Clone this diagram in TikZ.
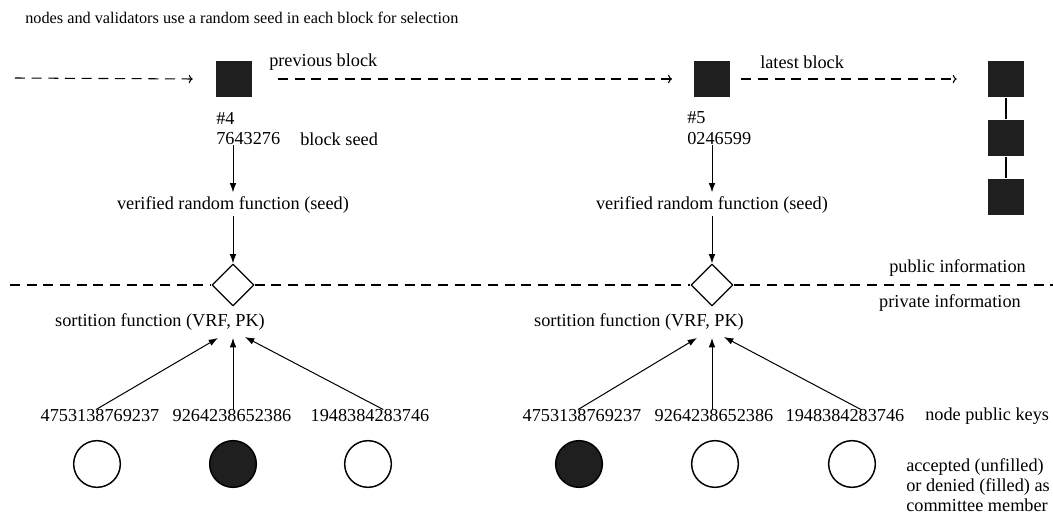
\documentclass[tikz,border=0pt]{standalone}
\usepackage{fontspec}
\setmainfont{Liberation Serif}
\usetikzlibrary{arrows.meta,shapes.geometric}
\begin{document}
\begin{tikzpicture}[x=0.75pt, y=-0.75pt, line join=round,
	txt/.style={inner sep=0pt, font=\fontsize{13.7}{16}\selectfont},
	blk/.style={fill=black!88, minimum size=27.5pt, inner sep=0pt},
	dia/.style={draw, diamond, minimum size=31.5pt, inner sep=0pt, line width=0.9pt},
	member/.style={draw, circle, minimum size=35pt, inner sep=0pt, line width=1.1pt},
	dsh/.style={dash pattern=on 7.5pt off 5pt, line width=0.8pt},
	arr/.style={-{Latex[length=7pt,width=5pt]}, line width=0.75pt}]
	\useasboundingbox (0,0) rectangle (1053,516);
	\node[txt, anchor=west, font=\fontsize{12.2}{14}\selectfont] (title) at (25,18) {nodes and validators use a random seed in each block for selection};
	% chain of blocks
	\node[blk] (b4) at (234,79) {};
	\node[blk] (b5) at (712,79) {};
	\node[blk] (c1) at (1006,79) {};
	\node[blk] (c2) at (1006,138) {};
	\node[blk] (c3) at (1006,197) {};
	\draw[line width=1pt] (c1)--(c2)--(c3);
	\coordinate (start) at (15,78);
	\draw[dsh,-{To[length=3pt]}] (start)--([xshift=-17pt]b4.west);
	\draw[dsh,-{To[length=3pt]}] ([xshift=19pt]b4.east)--([xshift=-16pt]b5.west);
	\draw[dsh,-{To[length=3pt]}] ([xshift=8pt]b5.east)--([xshift=-23pt]c1.west);
	\node[txt, anchor=west] (prev) at (269,62) {previous block};
	\node[txt, anchor=west] (last) at (760,62) {latest block};
	% seeds
	\node[txt, anchor=west] (id4) at (216,118) {\#4};
	\node[txt, anchor=west] (seed4) at (216,139) {7643276};
	\node[txt, anchor=west] (seedlbl) at (300,139) {block seed};
	\node[txt, anchor=west] (id5) at (687,118) {\#5};
	\node[txt, anchor=west] (seed5) at (687,139) {0246599};
	\node[txt] (vrf4) at (233,205) {verified random function (seed)};
	\node[txt] (vrf5) at (712,205) {verified random function (seed)};
	\draw[arr, shorten >=3pt] (seed4.south -| vrf4)--(vrf4.north);
	\draw[arr, shorten >=3pt] (seed5.south -| vrf5)--(vrf5.north);
	% public / private
	\node[dia] (d4) at (233,285) {};
	\node[dia] (d5) at (712,285) {};
	\draw[arr, shorten <=2pt] (vrf4.south)--(d4.north);
	\draw[arr, shorten <=2pt] (vrf5.south)--(d5.north);
	\coordinate (ml) at (10,285);
	\coordinate (mr) at (1053,285);
	\draw[dsh] (ml)--(d4.west) (d4.east)--(d5.west) (d5.east)--(mr);
	\node[txt, anchor=east] (pub) at (1026,268) {public information};
	\node[txt, anchor=east] (priv) at (1021,303) {private information};
	\node[txt] (sf4) at (160,322) {sortition function (VRF, PK)};
	\node[txt] (sf5) at (639,322) {sortition function (VRF, PK)};
	\coordinate (t41) at (218,338); \coordinate (t42) at (233,338); \coordinate (t43) at (245,337);
	\coordinate (t51) at (697,338); \coordinate (t52) at (712,338); \coordinate (t53) at (724,337);
	% keys and members
	\node[txt] (k41) at (100,416) {4753138769237};
	\node[txt] (k42) at (232,416) {9264238652386};
	\node[txt] (k43) at (370,416) {1948384283746};
	\node[txt] (k51) at (582,416) {4753138769237};
	\node[txt] (k52) at (714,416) {9264238652386};
	\node[txt] (k53) at (845,416) {1948384283746};
	\node[txt, anchor=west] (keylbl) at (925,416) {node public keys};
	\draw[arr] ([xshift=-3pt]k41.north)--(t41);
	\draw[arr] (k42.north -| t42)--(t42);
	\draw[arr] ([xshift=10pt]k43.north)--(t43);
	\draw[arr] ([xshift=-3pt]k51.north)--(t51);
	\draw[arr] (k52.north -| t52)--(t52);
	\draw[arr] ([xshift=12pt]k53.north)--(t53);
	\node[member] (m41) at (97,464) {};
	\node[member, fill=black!88] (m42) at (233,464) {};
	\node[member] (m43) at (368,464) {};
	\node[member, fill=black!88] (m51) at (579,464) {};
	\node[member] (m52) at (715,464) {};
	\node[member] (m53) at (852,464) {};
	\node[txt, anchor=north west, align=left, font=\fontsize{13.7}{15}\selectfont] (legend) at (906,458) {accepted (unfilled)\\or denied (filled) as\\committee member};
\end{tikzpicture}
\end{document}
